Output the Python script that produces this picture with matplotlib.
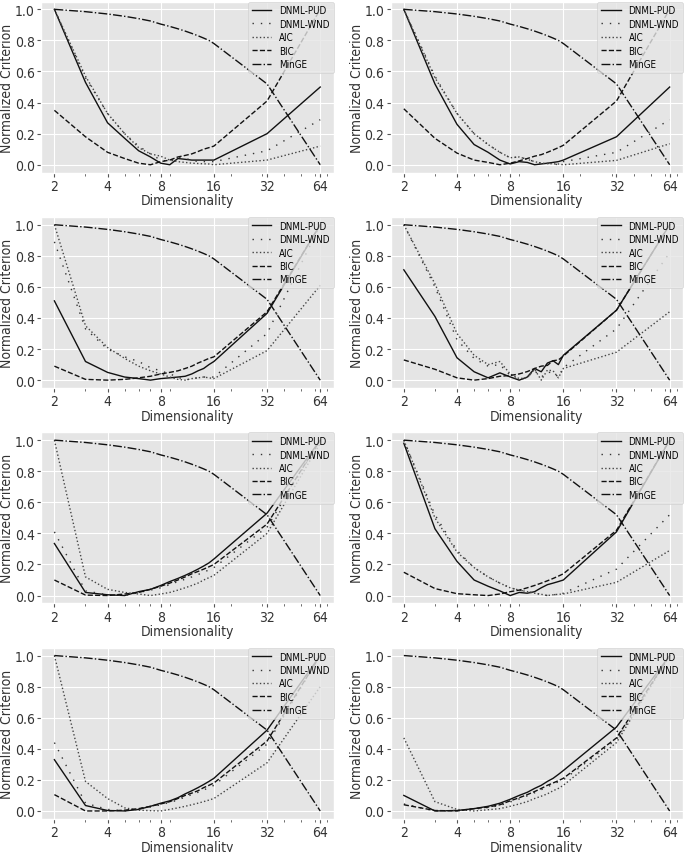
import matplotlib
matplotlib.use('Agg')
import matplotlib.pyplot as plt

plt.style.use('ggplot')
plt.rcParams['font.stretch'] = 'condensed'

# Размерности и подписи оси X
dims = [2, 3, 4, 5, 6, 7, 8, 9, 10, 11, 12, 13, 14, 15, 16, 32, 64]
xtick_vals = [2, 4, 8, 16, 32, 64]
xtick_labels = ['2', '4', '8', '16', '32', '64']

labels = ['DNML-PUD', 'DNML-WND', 'AIC', 'BIC', 'MinGE']

# MinGE одинаков во всех панелях
minge = [1.0, 0.985, 0.97, 0.955, 0.94, 0.925, 0.905, 0.89, 0.875, 0.86, 0.845, 0.83, 0.815, 0.80, 0.78, 0.52, 0.0]

# Панель 1
pud_1 = [1.0, 0.53, 0.27, 0.17, 0.09, 0.05, 0.01, 0.0, 0.04, 0.035, 0.03, 0.03, 0.03, 0.03, 0.03, 0.2, 0.5]
wnd_1 = [1.0, 0.56, 0.33, 0.2, 0.12, 0.07, 0.03, 0.02, 0.05, 0.04, 0.03, 0.02, 0.02, 0.02, 0.02, 0.09, 0.29]
aic_1 = [1.0, 0.57, 0.33, 0.2, 0.11, 0.07, 0.055, 0.03, 0.02, 0.015, 0.01, 0.008, 0.006, 0.005, 0.0, 0.03, 0.12]
bic_1 = [0.35, 0.18, 0.08, 0.04, 0.01, 0.0, 0.02, 0.03, 0.05, 0.06, 0.07, 0.085, 0.1, 0.11, 0.12, 0.41, 1.0]

# Панель 2
pud_2 = [1.0, 0.52, 0.26, 0.13, 0.08, 0.03, 0.005, 0.02, 0.015, 0.0, 0.005, 0.01, 0.015, 0.02, 0.03, 0.18, 0.5]
wnd_2 = [1.0, 0.57, 0.33, 0.2, 0.13, 0.08, 0.045, 0.05, 0.035, 0.02, 0.01, 0.008, 0.006, 0.0, 0.02, 0.08, 0.29]
aic_2 = [1.0, 0.56, 0.33, 0.2, 0.13, 0.08, 0.045, 0.05, 0.035, 0.02, 0.01, 0.008, 0.006, 0.005, 0.0, 0.028, 0.135]
bic_2 = [0.36, 0.17, 0.075, 0.03, 0.015, 0.0, 0.01, 0.025, 0.04, 0.055, 0.065, 0.08, 0.095, 0.11, 0.125, 0.41, 1.0]

# Панель 3
pud_3 = [0.51, 0.12, 0.05, 0.02, 0.01, 0.0, 0.01, 0.015, 0.02, 0.025, 0.04, 0.06, 0.075, 0.1, 0.12, 0.43, 1.0]
wnd_3 = [0.89, 0.33, 0.2, 0.15, 0.12, 0.08, 0.06, 0.04, 0.02, 0.0, 0.01, 0.015, 0.02, 0.02, 0.02, 0.3, 1.0]
aic_3 = [1.0, 0.35, 0.21, 0.14, 0.09, 0.06, 0.04, 0.02, 0.005, 0.0, 0.01, 0.015, 0.02, 0.015, 0.01, 0.19, 0.61]
bic_3 = [0.09, 0.005, 0.0, 0.005, 0.015, 0.025, 0.04, 0.05, 0.06, 0.075, 0.09, 0.11, 0.125, 0.14, 0.15, 0.44, 1.0]

# Панель 4
pud_4 = [0.71, 0.41, 0.144, 0.054, 0.015, 0.047, 0.021, 0.0, 0.02, 0.075, 0.054, 0.11, 0.125, 0.1, 0.16, 0.45, 1.0]
wnd_4 = [1.0, 0.6, 0.26, 0.14, 0.09, 0.1, 0.03, 0.0, 0.02, 0.06, 0.02, 0.05, 0.05, 0.02, 0.08, 0.33, 0.82]
aic_4 = [1.0, 0.62, 0.3, 0.16, 0.1, 0.12, 0.04, 0.01, 0.015, 0.07, 0.0, 0.065, 0.06, 0.015, 0.075, 0.18, 0.44]
bic_4 = [0.13, 0.07, 0.015, 0.0, 0.01, 0.025, 0.03, 0.04, 0.055, 0.075, 0.09, 0.095, 0.125, 0.13, 0.155, 0.45, 1.0]

# Панель 5
pud_5 = [0.335, 0.02, 0.005, 0.0, 0.025, 0.04, 0.065, 0.09, 0.11, 0.13, 0.15, 0.17, 0.19, 0.21, 0.235, 0.53, 1.0]
wnd_5 = [0.41, 0.03, 0.005, 0.0, 0.02, 0.035, 0.05, 0.07, 0.09, 0.105, 0.12, 0.135, 0.15, 0.165, 0.18, 0.44, 1.0]
aic_5 = [1.0, 0.12, 0.04, 0.02, 0.01, 0.0, 0.01, 0.02, 0.035, 0.05, 0.065, 0.08, 0.1, 0.115, 0.13, 0.4, 0.98]
bic_5 = [0.1, 0.003, 0.0, 0.01, 0.02, 0.04, 0.06, 0.08, 0.1, 0.12, 0.14, 0.155, 0.17, 0.185, 0.2, 0.46, 1.0]

# Панель 6
pud_6 = [0.98, 0.43, 0.22, 0.1, 0.06, 0.03, 0.0, 0.02, 0.015, 0.025, 0.05, 0.07, 0.08, 0.09, 0.1, 0.41, 1.0]
wnd_6 = [1.0, 0.52, 0.29, 0.18, 0.12, 0.08, 0.05, 0.035, 0.025, 0.015, 0.008, 0.0, 0.005, 0.008, 0.015, 0.17, 0.52]
aic_6 = [1.0, 0.5, 0.28, 0.18, 0.12, 0.08, 0.05, 0.035, 0.025, 0.015, 0.008, 0.0, 0.005, 0.008, 0.01, 0.085, 0.29]
bic_6 = [0.15, 0.045, 0.012, 0.005, 0.0, 0.01, 0.025, 0.035, 0.05, 0.065, 0.08, 0.095, 0.11, 0.125, 0.14, 0.42, 1.0]

# Панель 7
pud_7 = [0.33, 0.035, 0.003, 0.0, 0.01, 0.03, 0.05, 0.065, 0.085, 0.11, 0.13, 0.15, 0.17, 0.19, 0.21, 0.52, 1.0]
wnd_7 = [0.44, 0.05, 0.01, 0.0, 0.015, 0.025, 0.04, 0.055, 0.07, 0.09, 0.105, 0.12, 0.135, 0.15, 0.165, 0.43, 1.0]
aic_7 = [1.0, 0.19, 0.08, 0.02, 0.005, 0.002, 0.0, 0.01, 0.02, 0.03, 0.04, 0.05, 0.06, 0.07, 0.08, 0.31, 0.8]
bic_7 = [0.105, 0.0, 0.0, 0.005, 0.015, 0.03, 0.045, 0.06, 0.08, 0.1, 0.115, 0.13, 0.15, 0.165, 0.18, 0.45, 1.0]

# Панель 8
pud_8 = [0.1, 0.0, 0.003, 0.015, 0.03, 0.05, 0.075, 0.1, 0.12, 0.145, 0.165, 0.19, 0.21, 0.235, 0.26, 0.54, 1.0]
wnd_8 = [0.045, 0.0, 0.003, 0.012, 0.022, 0.035, 0.058, 0.077, 0.097, 0.117, 0.137, 0.155, 0.172, 0.188, 0.2, 0.46, 1.0]
aic_8 = [0.47, 0.06, 0.01, 0.0, 0.008, 0.015, 0.03, 0.045, 0.06, 0.08, 0.095, 0.11, 0.13, 0.145, 0.165, 0.44, 1.0]
bic_8 = [0.04, 0.003, 0.0, 0.015, 0.025, 0.04, 0.065, 0.085, 0.105, 0.125, 0.145, 0.165, 0.18, 0.195, 0.21, 0.47, 1.0]

panels = [
    (pud_1, wnd_1, aic_1, bic_1),
    (pud_2, wnd_2, aic_2, bic_2),
    (pud_3, wnd_3, aic_3, bic_3),
    (pud_4, wnd_4, aic_4, bic_4),
    (pud_5, wnd_5, aic_5, bic_5),
    (pud_6, wnd_6, aic_6, bic_6),
    (pud_7, wnd_7, aic_7, bic_7),
    (pud_8, wnd_8, aic_8, bic_8),
]

styles = ['-', (0, (1, 5)), ':', '--', '-.']
colors = ['#111111', '#333333', '#444444', '#111111', '#111111']

fig, axes = plt.subplots(4, 2, figsize=(6.85, 8.53), dpi=100)
fig.subplots_adjust(left=0.06, right=0.997, top=0.997, bottom=0.039,
                    wspace=0.195, hspace=0.26)

for ax, (pud, wnd, aic, bic) in zip(axes.flat, panels):
    series = [pud, wnd, aic, bic, minge]
    for vals, lab, ls, c in zip(series, labels, styles, colors):
        ax.plot(dims, vals, linestyle=ls, color=c, linewidth=1.0, label=lab)
    ax.set_xscale('log')
    ax.set_xticks(xtick_vals)
    ax.set_xticklabels(xtick_labels)
    ax.set_yticks([0.0, 0.2, 0.4, 0.6, 0.8, 1.0])
    ax.set_yticklabels(['0.0', '0.2', '0.4', '0.6', '0.8', '1.0'])
    ax.tick_params(axis='both', which='major', labelsize=10, labelcolor='#333333',
                   pad=1.5, length=3)
    ax.tick_params(axis='x', which='minor', length=2)
    ax.set_xlabel('Dimensionality', fontsize=10, color='#333333', labelpad=0.5)
    ax.set_ylabel('Normalized Criterion', fontsize=10, color='#333333', labelpad=0.5)
    ax.legend(loc='upper right', fontsize=7, borderaxespad=0.0,
              handlelength=2.0, labelspacing=0.35)

fig.savefig('out.png', dpi=100)
